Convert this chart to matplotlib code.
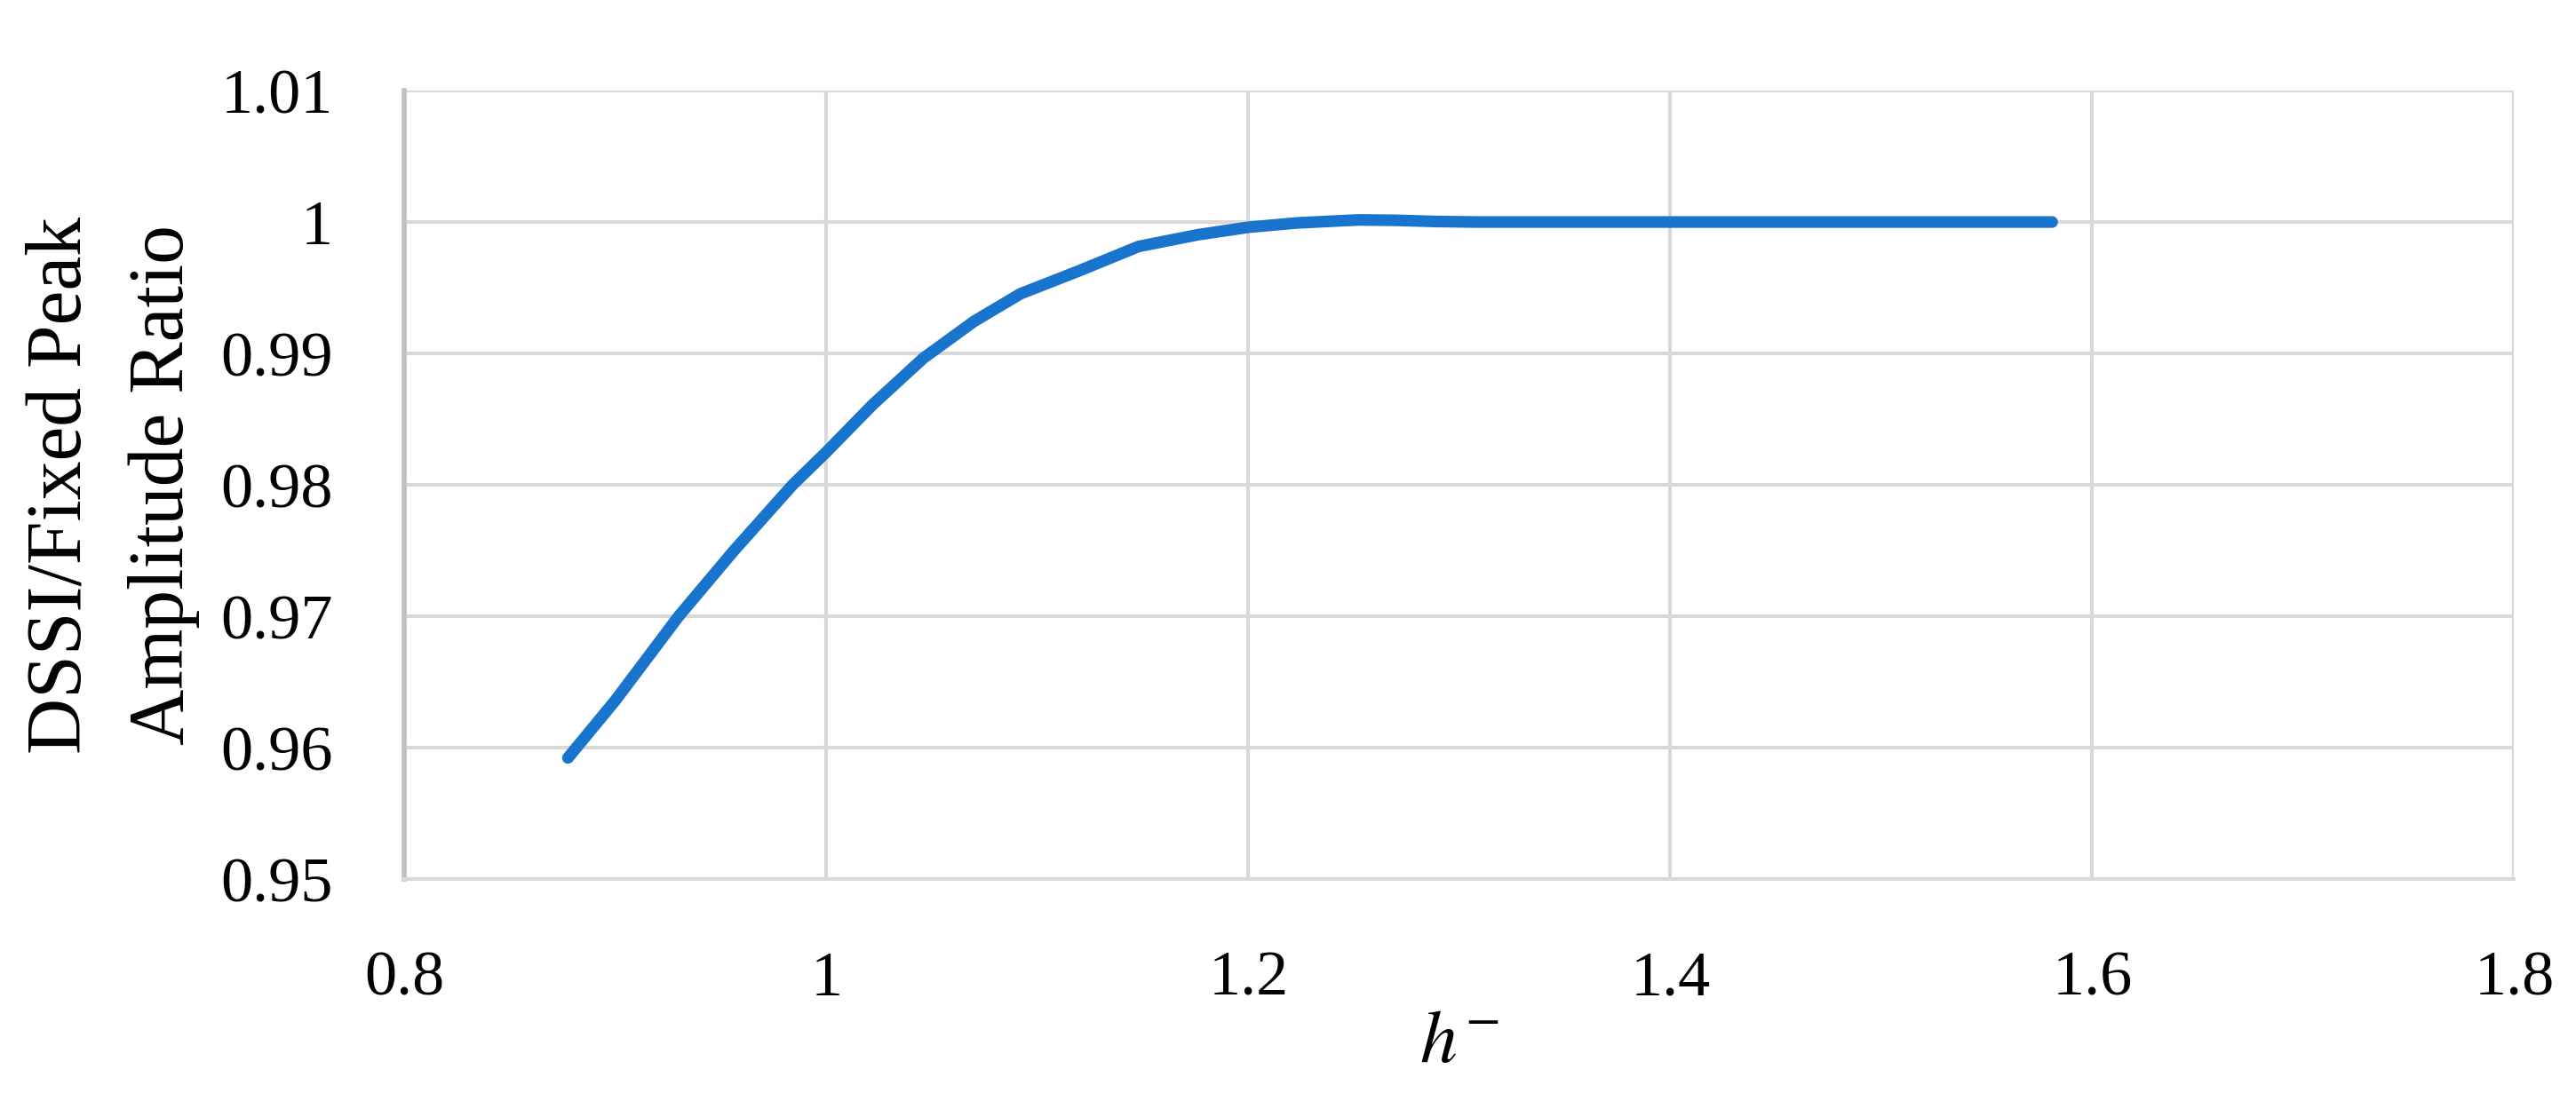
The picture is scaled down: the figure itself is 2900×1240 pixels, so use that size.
import matplotlib
matplotlib.use("Agg")
import matplotlib.pyplot as plt

# values
h_minus = [0.8775, 0.900, 0.930, 0.956, 0.984, 1.000, 1.022, 1.046, 1.070,
           1.092, 1.120, 1.148, 1.176, 1.200, 1.223, 1.252, 1.270,
           1.289, 1.308, 1.400, 1.500, 1.581]
amp_ratio = [0.95922, 0.9636, 0.9700, 0.97496, 0.9800, 0.9825, 0.98611,
             0.98964, 0.99244, 0.99454, 0.99630, 0.99814, 0.99903,
             0.99960, 0.99993, 1.00016, 1.00013, 1.00004, 1.0000, 1.0000,
             1.0000, 1.0000]

x_ticks = [0.8, 1.0, 1.2, 1.4, 1.6, 1.8]
x_tick_labels = ["0.8", "1", "1.2", "1.4", "1.6", "1.8"]
y_ticks = [0.95, 0.96, 0.97, 0.98, 0.99, 1.00, 1.01]
y_tick_labels = ["0.95", "0.96", "0.97", "0.98", "0.99", "1", "1.01"]

plt.rcParams['font.family'] = ['Liberation Serif', 'DejaVu Serif']
plt.rcParams['mathtext.fontset'] = 'stix'

fig = plt.figure(figsize=(29, 12.4), dpi=100)
ax = fig.add_axes([0.157, 0.2016, 0.8190, 0.7161])

ax.plot(h_minus, amp_ratio, color='#1874cd', linewidth=9.5,
        solid_capstyle='round', solid_joinstyle='round', zorder=3)

ax.set_xlim(0.8, 1.8)
ax.set_ylim(0.95, 1.01)
ax.set_xticks(x_ticks)
ax.set_xticklabels(x_tick_labels)
ax.set_yticks(y_ticks)
ax.set_yticklabels(y_tick_labels)
ax.tick_params(axis='both', length=0, labelsize=52)
ax.tick_params(axis='x', pad=58)
ax.tick_params(axis='y', pad=58)

ax.grid(True, color='#d9d9d9', linewidth=3)
ax.set_axisbelow(True)
for side in ['top', 'right']:
    ax.spines[side].set_visible(False)
ax.spines['left'].set_color('#bfbfbf')
ax.spines['left'].set_linewidth(4)
ax.spines['bottom'].set_color('#d9d9d9')
ax.spines['bottom'].set_linewidth(3)

ax.set_xlabel(r"$h^{-}$", fontsize=60, labelpad=2)
ax.set_ylabel("DSSI/Fixed Peak\nAmplitude Ratio", fontsize=63,
              linespacing=1.55)
ax.yaxis.set_label_coords(-0.097, 0.5)

fig.savefig("out.png", dpi=100, facecolor='white')
